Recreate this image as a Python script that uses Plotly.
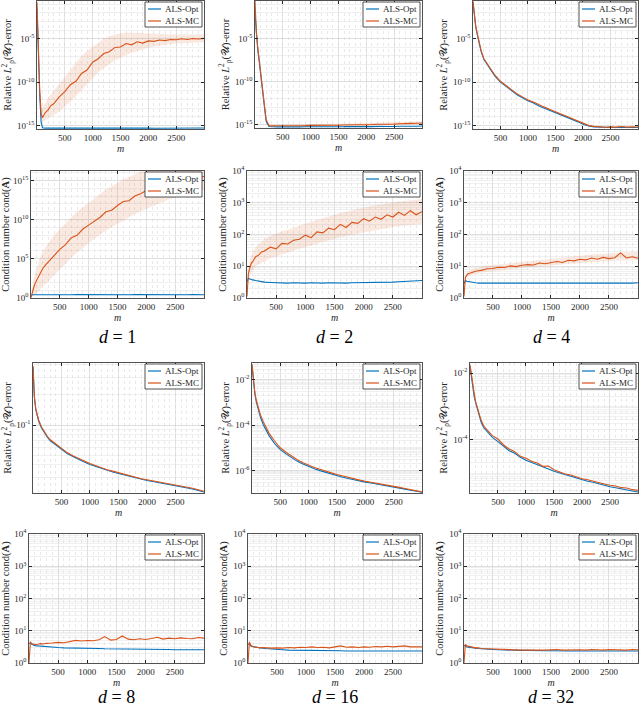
import plotly.graph_objects as go

# sample sizes m (shared by every panel)
M = [1, 25, 50, 75, 100, 150, 200, 250, 300,
     400, 500, 600, 700, 800, 900,
     1000, 1100, 1200, 1300, 1400, 1500, 1600, 1700, 1800, 1900,
     2000, 2100, 2200, 2300, 2400, 2500, 2600, 2700, 2800, 2900, 3000]

# all values below are log10 of the plotted quantity
# d = 1, relative error
A_OPT = [-1.5, -7.0, -11.5, -14.6, -15.25, -15.3, -15.28, -15.31, -15.29,
         -15.3, -15.28, -15.31, -15.29, -15.3, -15.28,
         -15.3, -15.29, -15.31, -15.28, -15.3, -15.29, -15.31, -15.3, -15.28, -15.3,
         -15.29, -15.31, -15.3, -15.28, -15.3, -15.29, -15.31, -15.3, -15.28, -15.3, -15.29]
A_MC = [-0.8, -6.2, -11.0, -13.6, -14.1, -13.5, -13.2, -12.7, -12.5,
        -11.7, -11.1, -10.3, -9.9, -9.0, -8.6,
        -7.7, -7.3, -6.7, -6.5, -6.0, -5.95, -5.55, -5.7, -5.35, -5.5,
        -5.25, -5.3, -5.15, -5.22, -5.08, -5.12, -5.0, -5.08, -4.98, -5.03, -4.96]
A_LO = [-0.9, -6.5, -11.5, -14.3, -14.6, -14.4, -14.2, -14.0, -13.8,
        -13.4, -12.8, -12.3, -11.6, -11.0, -10.3,
        -9.6, -8.9, -8.4, -7.9, -7.5, -7.2, -6.9, -6.6, -6.4, -6.2,
        -6.0, -5.9, -5.8, -5.7, -5.6, -5.55, -5.5, -5.5, -5.45, -5.4, -5.4]
A_HI = [-0.7, -5.9, -10.5, -12.9, -13.0, -12.4, -11.8, -11.4, -11.0,
        -10.2, -9.3, -8.6, -7.8, -7.0, -6.4,
        -5.9, -5.4, -5.0, -4.7, -4.5, -4.4, -4.3, -4.3, -4.3, -4.35,
        -4.4, -4.4, -4.45, -4.45, -4.5, -4.5, -4.5, -4.55, -4.5, -4.5, -4.5]

# d = 2, relative error
B_OPT = [-2.0, -4.8, -6.3, -7.6, -9.0, -12.0, -14.6, -15.22, -15.26,
         -15.27, -15.25, -15.28, -15.26, -15.27, -15.25,
         -15.26, -15.24, -15.26, -15.25, -15.23, -15.25, -15.24, -15.22, -15.24, -15.23,
         -15.22, -15.24, -15.21, -15.23, -15.2, -15.22, -15.19, -15.21, -15.18, -15.2, -15.17]
B_MC = [-0.5, -4.3, -6.0, -7.4, -8.8, -11.8, -14.4, -15.1, -15.15,
        -15.14, -15.15, -15.12, -15.14, -15.11, -15.12,
        -15.1, -15.11, -15.08, -15.1, -15.07, -15.08, -15.05, -15.06, -15.02, -15.04,
        -15.0, -15.01, -14.97, -14.98, -14.94, -14.95, -14.9, -14.92, -14.86, -14.85, -14.82]
B_LO = [-0.6, -4.5, -6.2, -7.6, -9.0, -12.0, -14.6, -15.2, -15.22,
        -15.22, -15.22, -15.21, -15.21, -15.2, -15.2,
        -15.19, -15.19, -15.18, -15.18, -15.17, -15.17, -15.16, -15.15, -15.14, -15.14,
        -15.13, -15.12, -15.11, -15.1, -15.09, -15.08, -15.07, -15.06, -15.05, -15.04, -15.03]
B_HI = [-0.4, -4.1, -5.8, -7.2, -8.6, -11.6, -14.2, -15.0, -15.05,
        -15.05, -15.04, -15.03, -15.02, -15.01, -15.0,
        -14.99, -14.98, -14.96, -14.95, -14.93, -14.92, -14.9, -14.88, -14.86, -14.84,
        -14.82, -14.8, -14.78, -14.76, -14.74, -14.72, -14.7, -14.68, -14.66, -14.64, -14.62]

# d = 4, relative error
C_OPT = [-0.8, -2.3, -3.6, -4.4, -5.1, -6.5, -7.4, -7.9, -8.4,
         -9.3, -10.0, -10.5, -11.0, -11.45, -11.8,
         -12.15, -12.4, -12.75, -13.0, -13.25, -13.55, -13.75, -14.0, -14.3, -14.55,
         -14.85, -15.05, -15.15, -15.2, -15.22, -15.23, -15.22, -15.23, -15.22, -15.23, -15.22]
C_MC = [-0.7, -2.2, -3.5, -4.3, -5.0, -6.4, -7.3, -7.8, -8.3,
        -9.2, -9.9, -10.4, -10.9, -11.35, -11.7,
        -12.05, -12.3, -12.62, -12.88, -13.15, -13.42, -13.65, -13.9, -14.18, -14.45,
        -14.72, -14.98, -15.1, -15.15, -15.2, -15.15, -15.18, -15.12, -15.18, -15.15, -15.17]

# d = 1, condition number
D_OPT = [0.3, 0.42, 0.41, 0.43, 0.42, 0.42, 0.41, 0.42, 0.43,
         0.42, 0.41, 0.42, 0.42, 0.43, 0.42,
         0.41, 0.42, 0.42, 0.43, 0.42, 0.41, 0.42, 0.42, 0.43, 0.42,
         0.42, 0.41, 0.42, 0.43, 0.42, 0.42, 0.41, 0.42, 0.43, 0.42, 0.42]
D_MC = [0.05, 0.9, 1.4, 1.9, 2.3, 3.0, 3.7, 4.2, 4.6,
        5.3, 6.2, 6.8, 7.7, 8.0, 8.8,
        9.3, 9.8, 10.3, 11.0, 11.2, 11.8, 12.3, 12.4, 13.0, 13.3,
        13.7, 13.9, 14.3, 14.4, 14.7, 14.8, 15.0, 15.1, 15.3, 15.35, 15.5]
D_LO = [0.0, 0.2, 0.3, 0.4, 0.6, 1.0, 1.5, 1.8, 2.1,
        2.9, 3.6, 4.4, 5.1, 5.8, 6.3,
        7.0, 7.6, 8.1, 8.6, 9.0, 9.5, 9.9, 10.3, 10.7, 11.0,
        11.4, 11.7, 12.0, 12.3, 12.6, 12.8, 13.0, 13.2, 13.4, 13.6, 13.8]
D_HI = [0.1, 1.6, 2.5, 3.2, 3.9, 5.0, 5.9, 6.5, 7.0,
        8.0, 8.8, 9.5, 10.3, 11.0, 11.6,
        12.2, 12.8, 13.3, 13.8, 14.3, 14.7, 15.1, 15.5, 15.8, 16.1,
        16.4, 16.6, 16.8, 17.0, 17.2, 17.3, 17.4, 17.5, 17.6, 17.7, 17.8]

# d = 2, condition number
E_OPT = [0.5, 0.62, 0.6, 0.58, 0.57, 0.55, 0.53, 0.52, 0.5,
         0.49, 0.48, 0.48, 0.47, 0.48, 0.47,
         0.47, 0.48, 0.47, 0.47, 0.48, 0.47, 0.48, 0.47, 0.48, 0.48,
         0.48, 0.49, 0.48, 0.49, 0.5, 0.5, 0.51, 0.52, 0.53, 0.54, 0.55]
E_MC = [0.05, 0.78, 0.95, 1.1, 1.15, 1.3, 1.35, 1.45, 1.48,
        1.6, 1.55, 1.72, 1.7, 1.82, 1.85,
        1.98, 1.9, 2.08, 2.05, 2.2, 2.15, 2.32, 2.22, 2.38, 2.35,
        2.5, 2.42, 2.55, 2.48, 2.62, 2.55, 2.7, 2.6, 2.75, 2.62, 2.72]
E_LO = [0.0, 0.55, 0.7, 0.8, 0.85, 1.0, 1.05, 1.1, 1.15,
        1.25, 1.3, 1.38, 1.42, 1.5, 1.55,
        1.6, 1.65, 1.72, 1.76, 1.82, 1.86, 1.92, 1.95, 2.0, 2.03,
        2.08, 2.1, 2.14, 2.17, 2.2, 2.23, 2.26, 2.28, 2.3, 2.32, 2.33]
E_HI = [0.1, 1.0, 1.2, 1.35, 1.45, 1.6, 1.7, 1.78, 1.85,
        1.95, 2.02, 2.1, 2.15, 2.22, 2.28,
        2.35, 2.4, 2.46, 2.52, 2.57, 2.62, 2.68, 2.72, 2.77, 2.8,
        2.85, 2.88, 2.92, 2.95, 2.98, 3.01, 3.03, 3.05, 3.08, 3.1, 3.12]

# d = 4, condition number
F_OPT = [0.45, 0.55, 0.53, 0.52, 0.5, 0.49, 0.48, 0.47, 0.47,
         0.46, 0.46, 0.45, 0.46, 0.45, 0.46,
         0.45, 0.45, 0.46, 0.45, 0.45, 0.46, 0.45, 0.46, 0.45, 0.45,
         0.46, 0.45, 0.46, 0.46, 0.45, 0.46, 0.46, 0.47, 0.46, 0.47, 0.48]
F_MC = [0.05, 0.65, 0.72, 0.77, 0.78, 0.82, 0.84, 0.86, 0.87,
        0.92, 0.93, 0.97, 0.96, 1.01, 0.99,
        1.03, 1.05, 1.04, 1.1, 1.08, 1.12, 1.15, 1.12, 1.19, 1.17,
        1.22, 1.2, 1.26, 1.22, 1.28, 1.24, 1.27, 1.42, 1.26, 1.3, 1.25]
F_LO = [0.0, 0.6, 0.66, 0.7, 0.71, 0.75, 0.77, 0.79, 0.8,
        0.84, 0.86, 0.88, 0.9, 0.92, 0.93,
        0.95, 0.97, 0.98, 1.0, 1.01, 1.03, 1.04, 1.06, 1.07, 1.09,
        1.1, 1.11, 1.13, 1.14, 1.15, 1.16, 1.17, 1.18, 1.19, 1.2, 1.2]
F_HI = [0.1, 0.72, 0.8, 0.85, 0.87, 0.91, 0.94, 0.96, 0.98,
        1.02, 1.04, 1.07, 1.09, 1.11, 1.13,
        1.15, 1.17, 1.19, 1.21, 1.23, 1.25, 1.27, 1.29, 1.3, 1.32,
        1.34, 1.35, 1.37, 1.38, 1.4, 1.41, 1.42, 1.43, 1.44, 1.45, 1.46]

# d = 8, relative error
G_OPT = [-0.42, -0.72, -0.85, -0.92, -0.96, -1.03, -1.08, -1.12, -1.155,
         -1.2, -1.245, -1.285, -1.315, -1.345, -1.37,
         -1.395, -1.415, -1.435, -1.455, -1.47, -1.485, -1.5, -1.515, -1.53, -1.545,
         -1.555, -1.565, -1.575, -1.585, -1.595, -1.605, -1.615, -1.625, -1.64, -1.655, -1.67]
G_MC = [-0.41, -0.71, -0.84, -0.91, -0.95, -1.02, -1.07, -1.11, -1.145,
        -1.19, -1.236, -1.276, -1.307, -1.337, -1.36,
        -1.386, -1.407, -1.426, -1.447, -1.461, -1.477, -1.492, -1.507, -1.521, -1.537,
        -1.547, -1.557, -1.567, -1.577, -1.587, -1.597, -1.607, -1.618, -1.632, -1.648, -1.663]

# d = 16, relative error
H_OPT = [-1.35, -2.1, -2.6, -2.95, -3.22, -3.65, -3.98, -4.25, -4.45,
         -4.82, -5.08, -5.27, -5.45, -5.6, -5.72,
         -5.83, -5.93, -6.01, -6.09, -6.16, -6.23, -6.3, -6.36, -6.42, -6.47,
         -6.52, -6.56, -6.6, -6.64, -6.69, -6.73, -6.78, -6.83, -6.88, -6.93, -6.97]
H_MC = [-1.3, -2.05, -2.52, -2.88, -3.12, -3.55, -3.85, -4.12, -4.35,
        -4.7, -5.0, -5.2, -5.38, -5.53, -5.66,
        -5.77, -5.87, -5.95, -6.04, -6.11, -6.18, -6.25, -6.31, -6.37, -6.43,
        -6.48, -6.52, -6.57, -6.61, -6.66, -6.7, -6.75, -6.8, -6.85, -6.9, -6.95]

# d = 32, relative error
I_OPT = [-1.8, -2.15, -2.4, -2.7, -2.88, -3.22, -3.48, -3.65, -3.75,
         -3.93, -4.06, -4.2, -4.33, -4.41, -4.53,
         -4.62, -4.68, -4.76, -4.82, -4.88, -4.95, -5.0, -5.06, -5.11, -5.15,
         -5.2, -5.25, -5.28, -5.33, -5.37, -5.41, -5.44, -5.48, -5.51, -5.54, -5.57]
I_MC = [-1.75, -2.08, -2.35, -2.6, -2.85, -3.15, -3.42, -3.6, -3.7,
        -3.88, -3.98, -4.16, -4.28, -4.36, -4.5,
        -4.56, -4.65, -4.7, -4.8, -4.79, -4.9, -4.96, -5.03, -5.06, -5.12,
        -5.17, -5.2, -5.25, -5.28, -5.33, -5.37, -5.39, -5.44, -5.45, -5.5, -5.52]

# d = 8, 16, 32, condition number
J_OPT = [0.62, 0.6, 0.57, 0.55, 0.54, 0.53, 0.52, 0.51, 0.5,
         0.49, 0.48, 0.47, 0.47, 0.46, 0.46,
         0.45, 0.45, 0.45, 0.44, 0.44, 0.44, 0.43, 0.44, 0.43, 0.43,
         0.43, 0.42, 0.43, 0.42, 0.42, 0.41, 0.42, 0.41, 0.41, 0.4, 0.41]
J_MC = [0.0, 0.66, 0.6, 0.58, 0.57, 0.58, 0.6, 0.59, 0.61,
        0.62, 0.64, 0.63, 0.66, 0.7, 0.68,
        0.7, 0.69, 0.72, 0.82, 0.71, 0.73, 0.84, 0.74, 0.72, 0.75,
        0.73, 0.76, 0.8, 0.74, 0.77, 0.75, 0.78, 0.76, 0.75, 0.79, 0.77]
K_OPT = [0.6, 0.56, 0.53, 0.51, 0.5, 0.48, 0.47, 0.46, 0.45,
         0.43, 0.42, 0.41, 0.4, 0.4, 0.39,
         0.39, 0.39, 0.38, 0.39, 0.38, 0.38, 0.38, 0.37, 0.38, 0.37,
         0.37, 0.38, 0.37, 0.37, 0.37, 0.36, 0.37, 0.37, 0.36, 0.37, 0.37]
K_MC = [0.0, 0.65, 0.55, 0.52, 0.5, 0.49, 0.47, 0.48, 0.47,
        0.46, 0.47, 0.46, 0.48, 0.47, 0.49,
        0.48, 0.5, 0.48, 0.49, 0.47, 0.5, 0.53, 0.49, 0.5, 0.48,
        0.5, 0.49, 0.51, 0.5, 0.52, 0.5, 0.51, 0.53, 0.5, 0.51, 0.5]
L_OPT = [0.55, 0.52, 0.5, 0.49, 0.48, 0.47, 0.46, 0.45, 0.44,
         0.43, 0.42, 0.41, 0.4, 0.4, 0.39,
         0.39, 0.39, 0.38, 0.38, 0.38, 0.38, 0.37, 0.38, 0.37, 0.37,
         0.37, 0.37, 0.37, 0.36, 0.37, 0.37, 0.36, 0.37, 0.37, 0.36, 0.37]
L_MC = [0.0, 0.58, 0.53, 0.52, 0.5, 0.49, 0.47, 0.47, 0.45,
        0.44, 0.43, 0.43, 0.42, 0.41, 0.41,
        0.4, 0.4, 0.41, 0.4, 0.4, 0.41, 0.42, 0.4, 0.41, 0.42,
        0.41, 0.4, 0.42, 0.41, 0.4, 0.42, 0.41, 0.41, 0.4, 0.42, 0.41]

X_TICKS = [500, 1000, 1500, 2000, 2500]
DIMS = [1, 2, 4, 8, 16, 32]

W, H = 640, 710
BLUE = "#0072BD"
ORANGE = "#D95319"
BAND = "rgba(217,83,25,0.13)"
AXC = "#262626"
FONT = "Liberation Serif, Times New Roman, serif"
ERR_TITLE = "Relative <i>L</i><sup>2</sup><sub>ρ</sub>(𝒰)-error"
COND_TITLE = "Condition number cond(<b>A</b>)"

# panel boxes in pixels: left, right, top, bottom
BOXES = [(37, 204, 1, 129), (255, 422, 1, 128), (473, 638, 1, 129),
         (31, 204, 171, 298), (247, 422, 171, 298), (464, 638, 171, 298),
         (33, 204, 363, 493), (252, 422, 363, 493), (470, 638, 363, 493),
         (29, 204, 534, 663), (248, 422, 534, 663), (464, 638, 534, 663)]

# y axis setup: range (log10), labelled decades, minor grid ("dec" = decades only, "all" = 1..9)
ERR_TOP = dict(rng=[-15.4, -0.65], lab=[-15, -10, -5], minor="dec")
COND_4 = dict(rng=[0, 4], lab=[0, 1, 2, 3, 4], minor="all")
PANELS = [
    (A_OPT, A_MC, A_LO, A_HI, ERR_TITLE, ERR_TOP),
    (B_OPT, B_MC, B_LO, B_HI, ERR_TITLE, ERR_TOP),
    (C_OPT, C_MC, None, None, ERR_TITLE, ERR_TOP),
    (D_OPT, D_MC, D_LO, D_HI, COND_TITLE, dict(rng=[0, 16.2], lab=[0, 5, 10, 15], minor="dec")),
    (E_OPT, E_MC, E_LO, E_HI, COND_TITLE, COND_4),
    (F_OPT, F_MC, F_LO, F_HI, COND_TITLE, COND_4),
    (G_OPT, G_MC, None, None, ERR_TITLE, dict(rng=[-1.68, -0.38], lab=[-1], minor="all")),
    (H_OPT, H_MC, None, None, ERR_TITLE, dict(rng=[-7.0, -1.25], lab=[-2, -4, -6], minor="all")),
    (I_OPT, I_MC, None, None, ERR_TITLE, dict(rng=[-5.6, -1.7], lab=[-2, -4], minor="all")),
    (J_OPT, J_MC, None, None, COND_TITLE, COND_4),
    (K_OPT, K_MC, None, None, COND_TITLE, COND_4),
    (L_OPT, L_MC, None, None, COND_TITLE, COND_4),
]


def px(x):
    return x / W


def py(y):
    return 1 - y / H


def pw(vals):
    return [10 ** v for v in vals]


def minor_vals(rng, kind):
    lo, hi = int(rng[0]) - 1, int(rng[1]) + 1
    mult = [1] if kind == "dec" else range(1, 10)
    return [j * 10.0 ** k for k in range(lo, hi + 1) for j in mult]


fig = go.Figure()
shapes = []
annotations = []

for i, (opt, mc, lo, hi, ytitle, yspec) in enumerate(PANELS):
    n = i + 1
    xa = "x" if n == 1 else f"x{n}"
    ya = "y" if n == 1 else f"y{n}"
    left, right, top, bottom = BOXES[i]

    if lo is not None:
        fig.add_trace(go.Scatter(x=M + M[::-1], y=pw(hi) + pw(lo)[::-1],
                                 fill="toself", fillcolor=BAND, line=dict(width=0),
                                 mode="lines", hoverinfo="skip", showlegend=False,
                                 xaxis=xa, yaxis=ya))
    fig.add_trace(go.Scatter(x=M, y=pw(opt), mode="lines", name="ALS-Opt",
                             line=dict(color=BLUE, width=1.1), showlegend=False,
                             xaxis=xa, yaxis=ya))
    fig.add_trace(go.Scatter(x=M, y=pw(mc), mode="lines", name="ALS-MC",
                             line=dict(color=ORANGE, width=1.1), showlegend=False,
                             xaxis=xa, yaxis=ya))

    yaxis = dict(
        type="log", range=yspec["rng"], domain=[py(bottom), py(top)], anchor=xa,
        automargin=False,
        tickmode="array", tickvals=[10.0 ** k for k in yspec["lab"]],
        ticktext=[f"10<sup>{k}</sup>" for k in yspec["lab"]],
        ticks="inside", ticklen=3, tickcolor=AXC, showline=True, linecolor=AXC,
        linewidth=0.8, mirror="ticks", showgrid=True, gridcolor="#d4d4d4",
        gridwidth=0.6, zeroline=False, tickfont=dict(family=FONT, size=9, color=AXC),
        title=dict(text=ytitle, font=dict(family=FONT, size=10.5, color=AXC), standoff=3),
        minor=dict(tickmode="array", tickvals=minor_vals(yspec["rng"], yspec["minor"]),
                   showgrid=True, gridcolor="#e6e6e6", gridwidth=0.6, ticks=""),
    )
    xaxis = dict(
        range=[1, 3000], domain=[px(left), px(right)], anchor=ya, automargin=False,
        tickmode="array", tickvals=X_TICKS, ticks="inside", ticklen=3, tickcolor=AXC,
        showline=True, linecolor=AXC, linewidth=0.8, mirror="ticks",
        showgrid=True, gridcolor="#d4d4d4", gridwidth=0.6, zeroline=False,
        minor=dict(tickmode="linear", dtick=100, tick0=0, showgrid=True, gridcolor="#d9d9d9",
                   griddash="dot", gridwidth=0.6, ticks=""),
        tickfont=dict(family=FONT, size=9, color=AXC),
        title=dict(text="<i>m</i>", font=dict(family=FONT, size=10, color=AXC), standoff=2),
    )
    fig.layout[f"xaxis{'' if n == 1 else n}"] = xaxis
    fig.layout[f"yaxis{'' if n == 1 else n}"] = yaxis

    # legend box drawn in the top-right corner of the panel
    bx1 = right - 2
    bx0 = bx1 - 57
    by0 = top + 1
    by1 = top + 26
    shapes.append(dict(type="rect", xref="paper", yref="paper",
                       x0=px(bx0), x1=px(bx1), y0=py(by1), y1=py(by0),
                       fillcolor="white", line=dict(color=AXC, width=0.8), layer="above"))
    for j, (name, col) in enumerate([("ALS-Opt", BLUE), ("ALS-MC", ORANGE)]):
        yy = by0 + 7 + j * 12
        shapes.append(dict(type="line", xref="paper", yref="paper",
                           x0=px(bx0 + 3), x1=px(bx0 + 16), y0=py(yy), y1=py(yy),
                           line=dict(color=col, width=1.2), layer="above"))
        annotations.append(dict(text=name, xref="paper", yref="paper",
                                x=px(bx0 + 18), y=py(yy), xanchor="left", yanchor="middle",
                                showarrow=False,
                                font=dict(family=FONT, size=9, color=AXC)))

# captions under each column
for r, cy in enumerate([337, 697]):
    for c in range(3):
        left, right, _, _ = BOXES[(2 * r + 1) * 3 + c]
        annotations.append(dict(text=f"<i>d</i> = {DIMS[r * 3 + c]}", xref="paper",
                                yref="paper", x=px((left + right) / 2), y=py(cy),
                                xanchor="center", yanchor="middle", showarrow=False,
                                font=dict(family=FONT, size=18, color="black")))

fig.update_layout(
    width=W, height=H, margin=dict(l=0, r=0, t=0, b=0, autoexpand=False),
    paper_bgcolor="white", plot_bgcolor="white",
    shapes=shapes, annotations=annotations, showlegend=False,
)

# the page's default body margin would push the figure 8px off the corner
fig.write_html("out.html", config={"staticPlot": True},
               post_script="document.body.style.margin = '0';")
